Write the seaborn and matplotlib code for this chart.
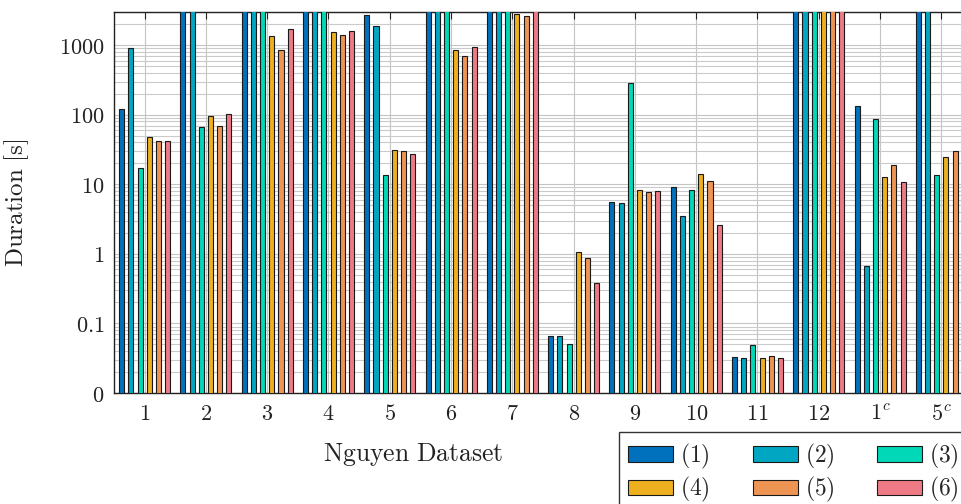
"""
Duration per Nguyen dataset for the six configurations, log scale.
Bars that run off the top of the chart are stored as 10000 s (clipped).
"""
import pandas as pd
import matplotlib.pyplot as plt
import seaborn as sns
from matplotlib.ticker import FixedLocator, FixedFormatter, LogLocator, NullFormatter

datasets = ["1", "2", "3", "4", "5", "6", "7", "8", "9", "10", "11", "12", "1c", "5c"]
tick_labels = ["$1$", "$2$", "$3$", "$4$", "$5$", "$6$", "$7$", "$8$", "$9$",
               "$10$", "$11$", "$12$", "$1^c$", "$5^c$"]
methods = ["(1)", "(2)", "(3)", "(4)", "(5)", "(6)"]

OFF = 10000  # runs past the top of the axis

m1 = [122, OFF, OFF, OFF, 2750, OFF, OFF, 0.0655, 5.6, 9.3, 0.0333, OFF, 135, OFF]
m2 = [910, OFF, OFF, OFF, 1890, OFF, OFF, 0.0668, 5.3, 3.5, 0.0319, OFF, 0.68, OFF]
m3 = [17, 66, OFF, OFF, 13.6, OFF, OFF, 0.051, 282, 8.2, 0.049, OFF, 86, 13.7]
m4 = [48, 96, 1355, 1530, 30.7, 842, 2770, 1.07, 8.2, 14, 0.0322, OFF, 12.7, 25]
m5 = [42, 69, 861, 1416, 30, 698, 2630, 0.875, 7.7, 11.2, 0.0344, OFF, 19.1, 29.7]
m6 = [42, 103, 1711, 1600, 27.2, 942, OFF, 0.386, 8.05, 2.6, 0.0319, OFF, 10.9, 30]

colors = ["#0072BD", "#00A6C2", "#00D8B8", "#EDB120", "#EE9554", "#EE7A85"]

sns.set(style="whitegrid")
plt.rcParams["mathtext.fontset"] = "cm"
plt.rcParams["font.family"] = ["DejaVu Serif"]
plt.rcParams["font.size"] = 16


def build_frame():
    rows = []
    for name, vals in zip(methods, [m1, m2, m3, m4, m5, m6]):
        for ds, v in zip(datasets, vals):
            rows.append({"dataset": ds, "method": name, "duration": v})
    return pd.DataFrame(rows)


def main():
    df = build_frame()
    fig = plt.figure(figsize=(9.62, 5.04), dpi=100)
    ax = fig.add_axes([114 / 962, 111 / 504, 858 / 962, 381 / 504])
    ax.set_yscale("log")

    sns.barplot(data=df, x="dataset", y="duration", hue="method", order=datasets,
                hue_order=methods, palette=colors, saturation=1, width=0.9, gap=0.45,
                errorbar=None, edgecolor="#1a1a1a", linewidth=0.8, ax=ax,
                zorder=3)

    ax.set_ylim(0.01, 3000)
    ax.set_xlim(-0.5, 13.5)

    # y ticks: bottom decade is labelled 0
    ax.yaxis.set_major_locator(FixedLocator([0.01, 0.1, 1, 10, 100, 1000]))
    ax.yaxis.set_major_formatter(FixedFormatter(["$0$", "$0.1$", "$1$", "$10$", "$100$", "$1000$"]))
    ax.yaxis.set_minor_locator(LogLocator(base=10, subs=range(2, 10)))
    ax.yaxis.set_minor_formatter(NullFormatter())
    ax.set_xticks(range(len(datasets)))
    ax.set_xticklabels(tick_labels)

    ax.grid(True, which="major", axis="both", color="#c4c4c4", linewidth=0.8, zorder=0)
    ax.grid(True, which="minor", axis="y", color="#cacaca", linewidth=0.8, zorder=0)
    ax.set_axisbelow(True)
    ax.tick_params(axis="both", which="both", direction="in", labelsize=16,
                   colors="#222222", top=True, right=True)
    ax.tick_params(axis="both", which="major", length=5, width=0.8, pad=7)
    ax.tick_params(axis="y", which="minor", length=3, width=0.6)
    for s in ax.spines.values():
        s.set_color("#222222")
        s.set_linewidth(1.0)

    ax.set_ylabel(r"$\mathrm{Duration\ [s]}$", fontsize=18, color="#222222")
    ax.yaxis.set_label_coords(-0.097, 0.5)
    ax.set_xlabel(r"$\mathrm{Nguyen\ Dataset}$", fontsize=18.5, color="#222222")
    ax.xaxis.set_label_coords(0.349, -0.125)

    # legend is filled row by row: (1)(2)(3) / (4)(5)(6)
    handles, labels = ax.get_legend_handles_labels()
    ax.legend_.remove()
    order = [0, 3, 1, 4, 2, 5]
    leg = fig.legend([handles[i] for i in order], [f"${labels[i]}$" for i in order],
                     ncol=3, loc="upper left", bbox_to_anchor=(619 / 962, 1 - 432 / 504),
                     frameon=True, fancybox=False, edgecolor="#333333",
                     framealpha=1, fontsize=17, handlelength=1.9,
                     handleheight=0.65, handletextpad=0.3, columnspacing=1.8,
                     labelspacing=0.2, borderpad=0.4, borderaxespad=0)
    leg.get_frame().set_linewidth(1.0)

    fig.savefig("out.png", dpi=100)
    plt.close(fig)


if __name__ == "__main__":
    main()
